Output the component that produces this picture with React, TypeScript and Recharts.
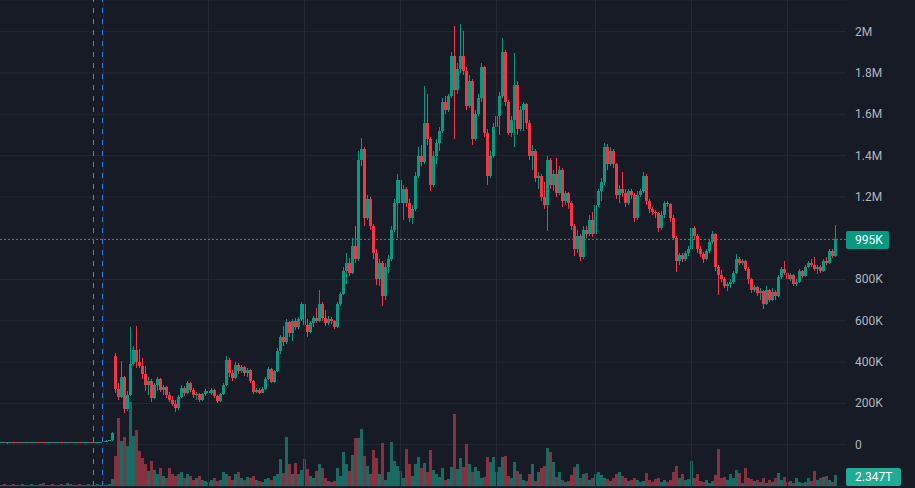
import { ComposedChart, Bar, XAxis, YAxis, CartesianGrid, ReferenceLine } from "recharts";

type Candle = [number, number, number, number]; // open, high, low, close (K)

const candles: Candle[] = [
  [11,12,10,11],[11,12,10,10],[10,11,5,11],[11,12,10,11],[11,11,10,10],[10,12,10,11],[11,12,10,10],[10,11,9,11],[11,12,10,11],[11,12,10,10],
  [10,11,9,11],[11,12,10,12],[12,12,10,11],[11,12,10,11],[11,12,10,10],[10,11,9,11],[11,12,10,11],[11,12,10,10],[10,12,10,11],[11,12,10,11],
  [11,12,10,10],[10,11,9,11],[11,12,10,11],[11,12,10,10],[10,12,10,11],[11,12,10,11],[11,12,10,10],[10,11,9,11],[11,12,10,11],[11,12,10,11],
  [11,12,10,10],[10,12,10,11],[11,12,10,11],[11,13,10,12],[19,20,18,19],[19,21,18,20],[20,22,19,21],[21,62,20,58],[430,445,250,270],[270,300,215,230],
  [230,405,225,330],[330,335,155,175],[175,260,165,240],[240,570,235,390],[390,480,380,460],[460,574,370,400],[400,465,370,380],[380,420,320,340],[340,380,260,290],[290,330,240,310],
  [310,320,205,225],[225,300,220,290],[290,330,260,320],[320,325,255,265],[265,290,240,280],[280,285,225,240],[240,255,205,215],[215,235,185,195],[195,215,160,180],[180,240,170,230],
  [230,290,225,275],[275,285,235,250],[250,310,245,300],[300,305,255,265],[265,275,225,240],[240,255,215,245],[245,250,205,215],[215,250,210,245],[245,270,235,260],[260,272,240,250],
  [250,275,240,265],[265,270,225,235],[235,240,200,210],[210,250,205,245],[245,300,240,290],[290,430,285,410],[410,420,330,345],[345,360,310,325],[325,400,320,385],[385,395,340,355],
  [355,385,345,375],[375,380,335,345],[345,370,330,360],[360,365,300,310],[310,315,245,255],[255,275,250,265],[265,275,245,250],[250,280,248,272],[272,330,265,320],[320,375,315,365],
  [365,370,300,305],[305,360,300,355],[355,470,350,455],[455,530,440,520],[520,575,480,495],[495,610,490,595],[595,600,520,540],[540,610,500,600],[600,615,555,570],[570,620,560,610],
  [610,690,600,680],[680,685,560,580],[580,610,520,545],[545,600,540,590],[590,625,570,615],[615,660,590,600],[600,750,595,680],[680,690,600,615],[615,650,575,590],[590,625,580,610],
  [610,620,585,600],[600,605,560,570],[570,690,565,680],[680,740,670,730],[730,860,725,840],[840,930,780,880],[880,905,815,830],[830,1000,825,960],[960,1060,880,900],[900,1420,890,1380],
  [1380,1485,1350,1430],[1430,1440,1060,1100],[1100,1210,1090,1190],[1190,1200,1040,1060],[1060,1070,900,930],[930,950,775,800],[800,900,770,880],[880,890,670,720],[720,880,700,860],[860,920,830,900],
  [900,1060,890,1040],[1040,1190,1030,1170],[1170,1310,1000,1280],[1280,1290,1150,1170],[1170,1260,1090,1240],[1240,1250,1150,1170],[1170,1190,1080,1100],[1100,1160,1070,1140],[1140,1320,1130,1300],[1300,1440,1290,1400],
  [1400,1450,1350,1370],[1370,1737,1360,1560],[1560,1700,1450,1480],[1480,1490,1230,1260],[1260,1420,1250,1400],[1400,1480,1360,1460],[1460,1540,1420,1520],[1520,1680,1510,1660],[1660,1690,1600,1620],[1620,1700,1610,1690],
  [1690,1900,1680,1880],[1880,2027,1480,1720],[1720,1850,1700,1820],[1820,2035,1800,1880],[1880,2003,1790,1810],[1810,1830,1620,1640],[1640,1790,1630,1760],[1760,1770,1450,1480],[1480,1620,1470,1600],[1600,1700,1590,1680],
  [1680,1850,1660,1830],[1830,1835,1490,1510],[1510,1530,1260,1300],[1300,1420,1290,1400],[1400,1560,1390,1540],[1540,1600,1480,1590],[1590,1710,1500,1690],[1690,1970,1680,1900],[1900,1910,1640,1660],[1660,1670,1500,1510],
  [1510,1590,1490,1570],[1570,1898,1440,1740],[1740,1760,1500,1530],[1530,1640,1520,1620],[1620,1660,1520,1650],[1650,1655,1530,1560],[1560,1570,1380,1400],[1400,1450,1330,1420],[1420,1430,1270,1290],[1290,1320,1240,1300],
  [1300,1310,1180,1200],[1200,1270,1140,1160],[1160,1400,1034,1380],[1380,1390,1240,1260],[1260,1330,1230,1310],[1310,1390,1200,1220],[1220,1350,1210,1330],[1330,1340,1150,1180],[1180,1230,1160,1220],[1220,1225,1140,1170],
  [1170,1180,1040,1060],[1060,1070,913,950],[950,1040,930,1010],[1010,1020,890,910],[910,1060,900,1040],[1040,1060,1000,1020],[1020,1110,1010,1090],[1090,1125,1005,1020],[1020,1180,1015,1160],[1160,1240,1150,1230],
  [1230,1290,1180,1270],[1270,1460,1260,1440],[1440,1455,1330,1360],[1360,1440,1350,1420],[1420,1430,1340,1360],[1360,1365,1190,1210],[1210,1260,1170,1240],[1240,1320,1200,1220],[1220,1240,1150,1170],[1170,1240,1160,1230],
  [1230,1240,1190,1210],[1210,1220,1080,1100],[1100,1230,1090,1210],[1210,1240,1200,1230],[1230,1320,1220,1300],[1300,1310,1160,1180],[1180,1190,1120,1140],[1140,1150,1110,1125],[1125,1135,1100,1120],[1120,1125,1030,1050],
  [1050,1130,1040,1110],[1110,1180,1100,1170],[1170,1180,1150,1165],[1165,1170,1080,1100],[1100,1110,990,1000],[1000,1010,835,890],[890,930,870,920],[920,930,885,900],[900,940,890,930],[930,960,915,950],
  [950,1080,940,1050],[1050,1060,990,1010],[1010,1020,930,950],[950,960,910,925],[925,935,880,900],[900,950,895,940],[940,990,930,980],[980,1034,970,1020],[1020,1025,840,860],[860,870,727,820],
  [820,845,790,800],[800,810,760,770],[770,790,745,780],[780,800,760,790],[790,840,780,830],[830,925,825,900],[900,910,870,880],[880,900,870,890],[890,895,840,850],[850,860,780,800],
  [800,805,735,750],[750,775,740,765],[765,770,720,735],[735,760,700,745],[745,750,655,680],[680,770,675,750],[750,755,690,700],[700,760,695,740],[740,750,700,720],[720,820,715,810],
  [810,860,800,850],[850,890,820,830],[830,840,790,800],[800,830,795,820],[820,825,770,780],[780,800,770,790],[790,850,785,840],[840,845,805,815],[815,870,810,860],[860,890,855,880],
  [880,900,860,870],[870,910,840,850],[850,870,825,860],[860,870,830,840],[840,900,835,890],[890,910,870,880],[880,950,875,940],[940,950,905,915],[915,1062,910,995],
];

// volume in T
const volumes: number[] = [
  0.2,0.4,0.2,0.2,0.4,0.2,0.2,0.4,0.2,0.2,
  0.4,0.2,0.2,0.4,0.6,0.2,0.2,0.4,0.2,0.2,
  0.4,0.2,0.6,0.4,0.2,0.2,0.4,0.2,0.2,0.4,
  0.2,0.2,0.4,0.2,0.2,0.2,0.4,1.5,6.4,14.5,
  9.6,10.5,8.5,17.9,10.7,12.0,7.5,6.0,4.7,3.2,
  5.3,3.4,2.6,3.8,2.1,1.7,3.8,2.6,2.1,2.6,
  3.0,1.7,2.6,2.1,1.3,1.7,2.1,1.3,1.1,0.9,
  1.3,1.7,1.1,1.3,3.0,2.6,2.1,1.3,2.6,3.0,
  1.7,1.3,1.9,1.7,2.1,1.3,1.1,0.9,1.5,1.7,
  1.3,2.1,2.6,5.8,2.8,10.5,4.7,2.6,4.9,2.6,
  3.4,5.8,3.6,2.1,1.7,3.2,4.7,3.8,1.7,1.1,
  0.9,1.1,3.8,2.1,7.3,4.7,3.2,6.6,10.2,10.2,
  12.2,6.4,4.3,2.6,7.7,6.0,2.6,9.2,1.3,3.0,
  9.4,5.3,4.3,3.2,1.7,7.9,4.7,2.1,4.7,6.2,
  3.8,4.9,3.0,7.7,3.4,2.6,1.9,3.8,1.3,1.5,
  4.1,15.4,3.6,6.0,4.1,9.0,4.7,3.0,4.1,3.2,
  1.7,1.9,6.2,5.1,6.2,3.0,4.1,6.2,6.4,2.1,
  1.7,5.1,3.2,2.6,1.3,1.1,2.6,4.7,1.1,3.0,
  3.8,4.3,8.1,7.3,5.1,1.9,3.0,1.3,0.9,1.1,
  2.3,4.1,4.7,1.7,2.6,2.8,1.3,1.7,2.6,3.0,
  2.3,1.7,1.5,1.1,1.7,2.6,3.0,2.1,1.7,1.1,
  1.3,1.7,1.3,0.9,1.1,2.8,1.3,0.9,1.5,1.7,
  0.9,1.3,0.9,1.3,3.0,4.3,1.7,2.6,1.3,1.5,
  5.3,1.7,2.6,1.1,0.9,1.3,0.6,1.1,2.3,7.9,
  1.7,1.9,1.3,2.6,1.7,3.4,2.8,0.6,3.8,1.7,
  1.5,1.1,1.3,0.9,1.7,0.6,1.3,0.9,1.7,2.8,
  1.3,1.9,0.9,1.1,0.6,1.7,0.9,0.6,0.9,1.7,
  1.1,3.2,1.3,1.7,1.9,2.1,1.3,0.9,2.347,
];

const priceTicks = [-200, 0, 200, 400, 600, 800, 1000, 1200, 1400, 1600, 1800, 2000];
const hiddenTickLabels = [-200, 1000];
const periodStarts = [34, 69, 101, 133, 165, 198, 230, 262];
const sessionMarkers = [31, 34];
const totalSlots = 282;
const lastPrice = 995;
const lastVolume = 2.347;

const BG = "#171b26";
const GRID = "#252935";
const UP = "#089981";
const DOWN = "#f23645";
const VOL_UP = "#1a6a62";
const VOL_DOWN = "#873240";
const MARKER_COLORS = ["#4a82dc", "#2f78f2"];

const rows = Array.from({ length: totalSlots }, (_, i) => {
  const c = candles[i];
  if (!c) return { i, range: null, vol: null };
  return { i, o: c[0], h: c[1], l: c[2], c: c[3], range: [c[2], c[1]], vol: volumes[i] };
});

const formatPrice = (v: number) => {
  if (v === 0) return "0";
  if (v >= 1000) return `${+(v / 1000).toFixed(2)}M`;
  return `${v}K`;
};

const CandleShape = (props: any) => {
  const { x, y, height, payload } = props;
  if (!payload || payload.o == null) return <g />;
  const { o, h, l, c } = payload;
  const top = Math.min(y, y + height);
  const span = Math.abs(height);
  const k = h > l ? span / (h - l) : 0;
  const yo = top + (h - o) * k;
  const yc = top + (h - c) * k;
  const bx = Math.round(x);
  const color = c >= o ? UP : DOWN;
  return (
    <g shapeRendering="crispEdges">
      <rect x={bx + 1} y={top} width={1} height={Math.max(1, span)} fill={color} />
      <rect x={bx} y={Math.min(yo, yc)} width={3} height={Math.max(1, Math.abs(yo - yc))} fill={color} />
    </g>
  );
};

const VolumeShape = (props: any) => {
  const { x, y, height, payload } = props;
  if (!payload || payload.vol == null) return <g />;
  const h = Math.max(1, Math.abs(height));
  const top = Math.min(y, y + height);
  return (
    <rect
      x={Math.round(x)}
      y={top + Math.abs(height) - h}
      width={3}
      height={h}
      fill={payload.c >= payload.o ? VOL_UP : VOL_DOWN}
      shapeRendering="crispEdges"
    />
  );
};

// snaps a reference line onto the pixel grid so 1px strokes stay sharp
const crispLine = (stroke: string, dash?: string) => (p: any) => {
  const vertical = Math.abs(p.x1 - p.x2) < 0.01;
  const snap = (v: number) => Math.floor(v) + 0.5;
  return (
    <line
      x1={vertical ? snap(p.x1) : p.x1}
      x2={vertical ? snap(p.x2) : p.x2}
      y1={vertical ? p.y1 : snap(p.y1)}
      y2={vertical ? p.y2 : snap(p.y2)}
      stroke={stroke}
      strokeWidth={1}
      strokeDasharray={dash}
    />
  );
};

const PriceTick = ({ x, y, payload }: any) => {
  if (hiddenTickLabels.includes(payload.value)) return <g />;
  return (
    <text x={x} y={y} dominantBaseline="central" fill="#b2b5be" fontSize={12} fontFamily="Roboto">
      {formatPrice(payload.value)}
    </text>
  );
};

const AxisTag = ({ viewBox, text, fill, boxWidth, shiftY = 0 }: any) => {
  if (!viewBox) return <g />;
  const x = viewBox.x + viewBox.width;
  const cy = Math.round(viewBox.y + shiftY);
  return (
    <g>
      <rect x={x} y={cy - 9} width={boxWidth} height={18} rx={2} fill={fill} />
      <text x={x + 9} y={cy} dominantBaseline="central" fill="#ffffff" fontSize={12} fontFamily="Roboto">
        {text}
      </text>
    </g>
  );
};

export default function App() {
  return (
    <div style={{ position: "absolute", left: 0, top: 0, width: 915, height: 488, background: BG, overflow: "hidden" }}>
      <ComposedChart
        width={915}
        height={488}
        data={rows}
        margin={{ top: 0, right: 0, bottom: 2, left: 0 }}
        barCategoryGap={0}
        barGap={0}
      >
        <CartesianGrid vertical={false} stroke={GRID} />
        <XAxis dataKey="i" hide />
        <XAxis dataKey="i" xAxisId="vx" hide />
        <YAxis
          orientation="right"
          type="number"
          domain={[-200, 2153.5]}
          ticks={priceTicks}
          interval={0}
          allowDataOverflow
          width={69}
          axisLine={false}
          tickLine={false}
          tickSize={6}
          tickMargin={3}
          tick={PriceTick}
        />
        <YAxis yAxisId="vol" type="number" domain={[0, 104]} allowDataOverflow hide />
        {periodStarts.map((s) => (
          <ReferenceLine key={`g${s}`} x={s} position="middle" shape={crispLine(GRID)} />
        ))}
        {sessionMarkers.map((s, k) => (
          <ReferenceLine key={`m${s}`} x={s} position="start" shape={crispLine(MARKER_COLORS[k], "5 6")} />
        ))}
        <Bar dataKey="vol" xAxisId="vx" yAxisId="vol" isAnimationActive={false} shape={VolumeShape} />
        <Bar dataKey="range" isAnimationActive={false} shape={CandleShape} />
        <ReferenceLine
          y={lastPrice}
          shape={crispLine(UP, "2 2")}
          label={<AxisTag text={formatPrice(lastPrice)} fill={UP} boxWidth={43} shiftY={1} />}
        />
        <ReferenceLine
          y={lastVolume}
          yAxisId="vol"
          xAxisId="vx"
          stroke="none"
          label={<AxisTag text={`${lastVolume}T`} fill="#22ab94" boxWidth={55} shiftY={2} />}
        />
      </ComposedChart>
    </div>
  );
}
